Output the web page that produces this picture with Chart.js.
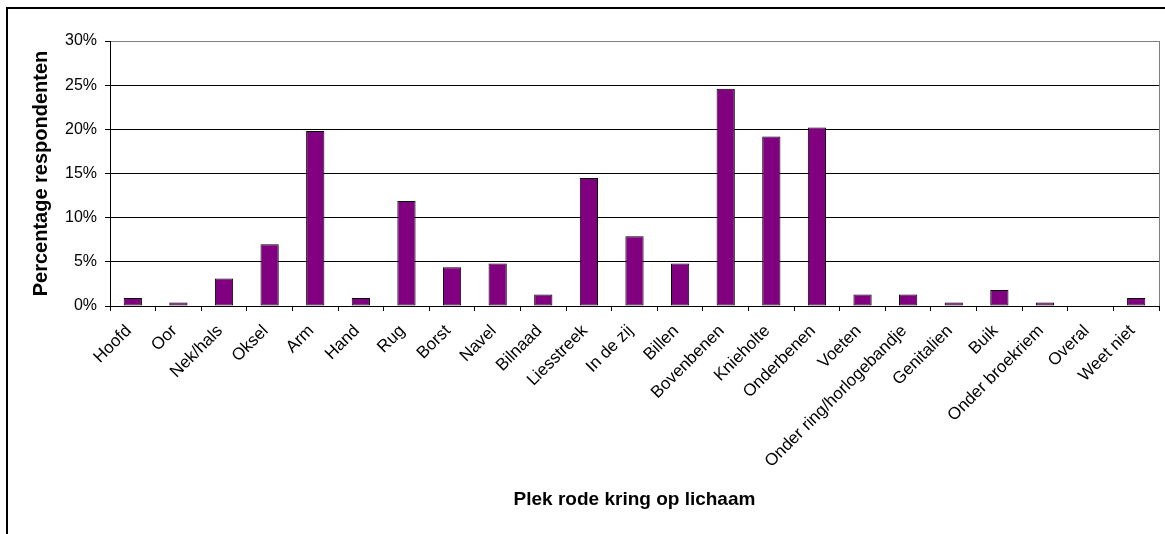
<!DOCTYPE html>
<html>
<head>
<meta charset="utf-8">
<title>Plek rode kring op lichaam</title>
<script src="https://cdn.jsdelivr.net/npm/chart.js@4/dist/chart.umd.min.js"></script>
<style>
    html, body { margin: 0; padding: 0; background: #fff; }
    #wrap { position: relative; width: 1165px; height: 534px; }
</style>
</head>
<body>
<div id="wrap"><canvas id="bodyChart"></canvas></div>
<script>
const categories = ['Hoofd', 'Oor', 'Nek/hals', 'Oksel', 'Arm', 'Hand', 'Rug', 'Borst', 'Navel', 'Bilnaad',
    'Liesstreek', 'In de zij', 'Billen', 'Bovenbenen', 'Knieholte', 'Onderbenen', 'Voeten',
    'Onder ring/horlogebandje', 'Genitalien', 'Buik', 'Onder broekriem', 'Overal', 'Weet niet'];
const percentages = [0.9, 0.4, 3.1, 7.0, 19.8, 0.9, 11.9, 4.4, 4.8, 1.3,
    14.5, 7.9, 4.8, 24.6, 19.2, 20.2, 1.3,
    1.3, 0.4, 1.8, 0.4, 0, 0.9];
const yTicks = [0, 5, 10, 15, 20, 25, 30];
const yTitle = 'Percentage respondenten';
const xTitle = 'Plek rode kring op lichaam';

const FONT = '"Liberation Sans", Arial, sans-serif';

// frame, plot border and x title
const framePlugin = {
    id: 'frame',
    afterDraw(chart) {
        const ctx = chart.ctx;
        const a = chart.chartArea;
        ctx.save();
        ctx.strokeStyle = '#000';
        ctx.lineWidth = 2;
        ctx.beginPath();
        ctx.moveTo(7, 534);
        ctx.lineTo(7, 8);
        ctx.lineTo(1165, 8);
        ctx.stroke();

        ctx.strokeStyle = '#808080';
        ctx.lineWidth = 1;
        ctx.beginPath();
        ctx.moveTo(a.right + 0.5, a.top);
        ctx.lineTo(a.right + 0.5, a.bottom);
        ctx.stroke();

        ctx.fillStyle = '#000';
        ctx.font = 'bold 19px ' + FONT;
        ctx.textAlign = 'center';
        ctx.textBaseline = 'middle';
        ctx.fillText(xTitle, (a.left + a.right) / 2, 500);
        ctx.restore();
    }
};

const ctx = document.getElementById('bodyChart').getContext('2d');
new Chart(ctx, {
    type: 'bar',
    data: {
        labels: categories,
        datasets: [{
            data: percentages,
            backgroundColor: '#800080',
            borderColor: '#000',
            borderWidth: 1,
            borderSkipped: false,
            barPercentage: 0.8,
            categoryPercentage: 0.5
        }]
    },
    options: {
        responsive: true,
        maintainAspectRatio: false,
        animation: false,
        layout: { padding: { top: 41, right: 6, left: 10, bottom: 0 } },
        plugins: {
            legend: { display: false },
            tooltip: { enabled: false }
        },
        scales: {
            x: {
                offset: true,
                grid: {
                    offset: true,
                    drawOnChartArea: false,
                    drawTicks: true,
                    tickLength: 5,
                    color: '#000'
                },
                border: { color: '#000', width: 1 },
                ticks: {
                    autoSkip: false,
                    maxRotation: 45,
                    minRotation: 45,
                    padding: 10,
                    labelOffset: -4,
                    color: '#000',
                    font: { family: FONT, size: 17 }
                },
                afterFit(scale) { scale.height = 228; }
            },
            y: {
                min: 0,
                max: 30,
                afterBuildTicks(scale) {
                    scale.ticks = yTicks.map(v => ({ value: v }));
                },
                grid: {
                    color: (c) => c.tick && c.tick.value === 30 ? '#808080' : '#000',
                    tickLength: 5,
                    tickColor: '#000'
                },
                border: { color: '#000', width: 1 },
                ticks: {
                    padding: 8,
                    color: '#000',
                    font: { family: FONT, size: 16 },
                    callback: (v) => v + '%'
                },
                title: {
                    display: true,
                    text: yTitle,
                    color: '#000',
                    font: { family: FONT, size: 20, weight: 'bold' },
                    padding: { top: 19, bottom: 0 }
                },
                afterFit(scale) { scale.width = 100; }
            }
        }
    },
    plugins: [framePlugin]
});
</script>
</body>
</html>
